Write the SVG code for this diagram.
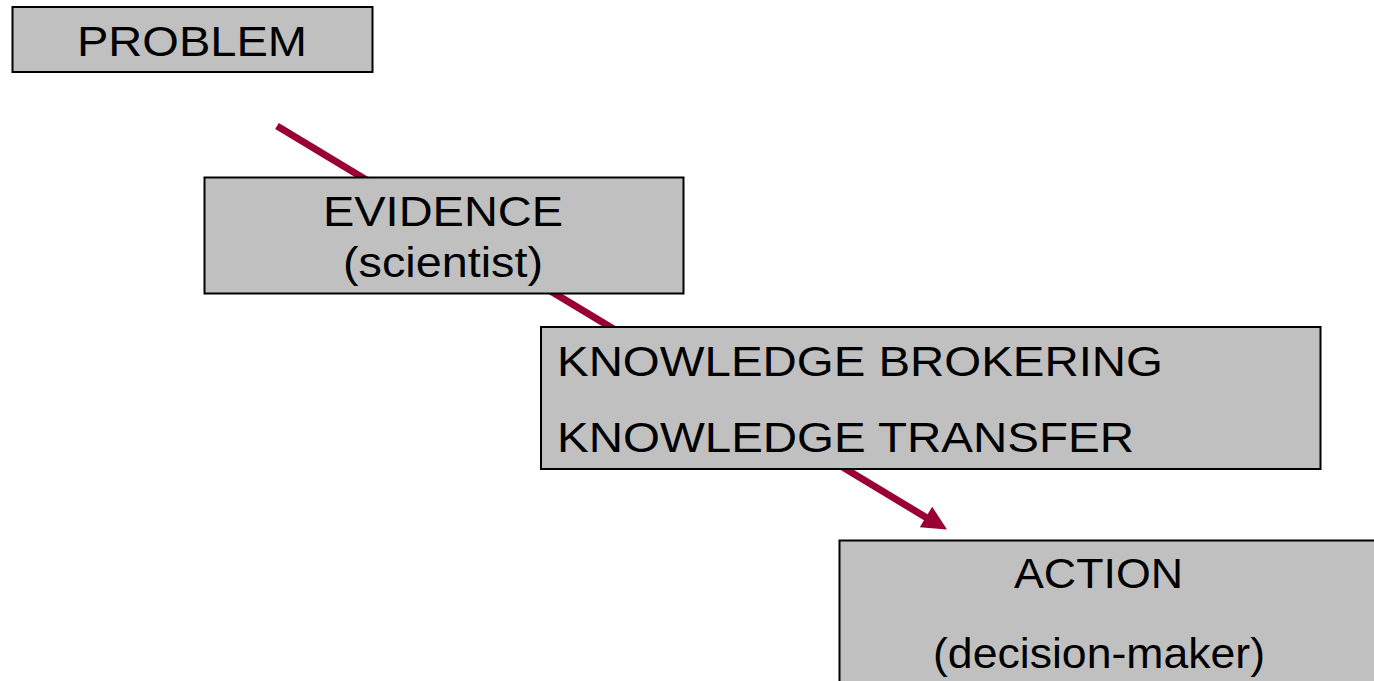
<svg xmlns="http://www.w3.org/2000/svg" width="1374" height="681" viewBox="0 0 1374 681">
  <style>
    .box { fill: #c0c0c0; stroke: #000000; stroke-width: 2; }
    .lbl { font-family: "Liberation Sans", Arial, sans-serif; font-size: 42px; fill: #000000; }
    .conn { stroke: #990033; stroke-width: 7; fill: none; }
    .head { fill: #990033; stroke: none; }
  </style>
  <rect x="0" y="0" width="1374" height="681" fill="#ffffff"/>
  <g id="connectors">
    <line class="conn" x1="277" y1="126" x2="927" y2="518"/>
    <polygon class="head" points="947,529.5 919.8,527.3 932.2,506.7"/>
  </g>
  <g id="problem">
    <rect class="box" x="12.5" y="7" width="360" height="65"/>
    <text class="lbl" x="77" y="56" textLength="230" lengthAdjust="spacingAndGlyphs">PROBLEM</text>
  </g>
  <g id="evidence">
    <rect class="box" x="204.5" y="177.5" width="479" height="116"/>
    <text class="lbl" x="323" y="226" textLength="240" lengthAdjust="spacingAndGlyphs">EVIDENCE</text>
    <text class="lbl" x="343" y="277" textLength="200" lengthAdjust="spacingAndGlyphs">(scientist)</text>
  </g>
  <g id="knowledge">
    <rect class="box" x="541" y="327" width="779.5" height="142"/>
    <text class="lbl" x="557" y="376" textLength="606" lengthAdjust="spacingAndGlyphs">KNOWLEDGE BROKERING</text>
    <text class="lbl" x="557" y="452" textLength="577" lengthAdjust="spacingAndGlyphs">KNOWLEDGE TRANSFER</text>
  </g>
  <g id="action">
    <rect class="box" x="839.5" y="540.5" width="560" height="160"/>
    <text class="lbl" x="1014" y="588" textLength="169" lengthAdjust="spacingAndGlyphs">ACTION</text>
    <text class="lbl" x="933" y="668" textLength="332" lengthAdjust="spacingAndGlyphs">(decision-maker)</text>
  </g>
</svg>
